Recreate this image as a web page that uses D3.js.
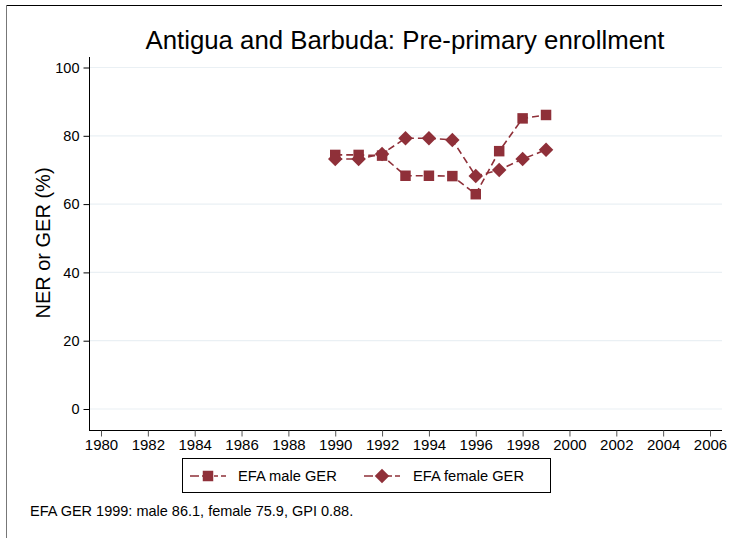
<!DOCTYPE html>
<html>
<head>
<meta charset="utf-8">
<script src="https://cdn.jsdelivr.net/npm/d3@7"></script>
<style>
  body { margin: 0; background: #fff; }
  svg text { font-family: "Liberation Sans", Arial, sans-serif; fill: #000; }
</style>
</head>
<body>
<div id="chart"></div>
<script>
var years = [1990, 1991, 1992, 1993, 1994, 1995, 1996, 1997, 1998, 1999];
var maleGER = [74.4, 74.4, 74.2, 68.3, 68.3, 68.2, 62.9, 75.5, 85.1, 86.1];
var femaleGER = [73.2, 73.2, 74.7, 79.3, 79.3, 78.8, 68.2, 70.0, 73.2, 75.9];
var xTicks = d3.range(1980, 2007, 2);
var yTicks = [0, 20, 40, 60, 80, 100];

var color = '#8f3039';

var svg = d3.select('#chart')
    .append('svg')
        .attr('width', 731)
        .attr('height', 538);

// outer frame (top + left only visible)
svg.append('line').attr('x1', 6).attr('x2', 722).attr('y1', 5.5).attr('y2', 5.5)
    .style('stroke', '#000').style('stroke-width', 1);
svg.append('line').attr('x1', 6.5).attr('x2', 6.5).attr('y1', 5).attr('y2', 538)
    .style('stroke', '#777').style('stroke-width', 1);

var x = d3.scaleLinear().domain([1980, 2006]).range([101, 710]);
var y = d3.scaleLinear().domain([0, 100]).range([409, 67.5]);

// gridlines
svg.selectAll('.grid')
    .data(yTicks)
    .enter()
    .append('line')
    .classed('grid', true)
    .attr('x1', 90).attr('x2', 722)
    .attr('y1', d => y(d)).attr('y2', d => y(d))
    .style('stroke', '#eaf0f4')
    .style('stroke-width', 1.2);

// y axis
var yAxis = svg.append('g')
    .attr('transform', 'translate(89.5,0)')
    .call(d3.axisLeft(y).tickValues(yTicks).tickSize(6).tickPadding(4));
yAxis.select('.domain').attr('d', 'M0,57V430.5');
yAxis.selectAll('text').style('font-size', '14.5px');

// x axis
var xAxis = svg.append('g')
    .attr('transform', 'translate(0,430.5)')
    .call(d3.axisBottom(x).tickValues(xTicks).tickFormat(d3.format('d')).tickSize(6).tickPadding(3));
xAxis.select('.domain').attr('d', 'M89,0H722');
xAxis.selectAll('text').style('font-size', '15px');
xAxis.selectAll('.tick line').style('stroke', '#555');

// title
svg.append('text')
    .attr('x', 405).attr('y', 49)
    .attr('text-anchor', 'middle')
    .style('font-size', '25.8px')
    .text('Antigua and Barbuda: Pre-primary enrollment');

svg.append('text')
    .attr('transform', 'translate(50,243) rotate(-90)')
    .attr('text-anchor', 'middle')
    .style('font-size', '20px')
    .text('NER or GER (%)');

var line = d3.line()
    .x(d => x(d[0]))
    .y(d => y(d[1]));

var maleData = years.map((yr, i) => [yr, maleGER[i]]);
var femaleData = years.map((yr, i) => [yr, femaleGER[i]]);

function drawSeries(data, symbol, size) {
    svg.append('path')
        .datum(data)
        .attr('d', line)
        .style('fill', 'none')
        .style('stroke', color)
        .style('stroke-width', 1.6)
        .style('stroke-dasharray', '7,4');
    svg.selectAll(null)
        .data(data)
        .enter()
        .append('path')
        .attr('transform', d => 'translate(' + x(d[0]) + ',' + y(d[1]) + ')')
        .attr('d', d3.symbol().type(symbol).size(size))
        .style('fill', color);
}

var diamond = {
    draw: function(ctx, size) {
        var r = Math.sqrt(size / 2);
        ctx.moveTo(0, -r); ctx.lineTo(r, 0); ctx.lineTo(0, r); ctx.lineTo(-r, 0); ctx.closePath();
    }
};

drawSeries(maleData, d3.symbolSquare, 110);
drawSeries(femaleData, diamond, 105);

// legend
svg.append('rect')
    .attr('x', 182.5).attr('y', 458.5).attr('width', 368).attr('height', 34)
    .style('fill', 'none').style('stroke', '#000').style('stroke-width', 1);

var legendItems = [
    { label: 'EFA male GER', symbol: d3.symbolSquare, size: 110, x0: 190, tx: 238 },
    { label: 'EFA female GER', symbol: diamond, size: 105, x0: 364, tx: 413 }
];
legendItems.forEach(function(it) {
    svg.append('line')
        .attr('x1', it.x0).attr('x2', it.x0 + 36).attr('y1', 476).attr('y2', 476)
        .style('stroke', color).style('stroke-width', 1.6)
        .style('stroke-dasharray', '9,3,9,3,4,3');
    svg.append('path')
        .attr('transform', 'translate(' + (it.x0 + 18) + ',476)')
        .attr('d', d3.symbol().type(it.symbol).size(it.size))
        .style('fill', color);
    svg.append('text')
        .attr('x', it.tx).attr('y', 481)
        .style('font-size', '14.7px')
        .text(it.label);
});

svg.append('text')
    .attr('x', 30).attr('y', 516)
    .style('font-size', '14.5px')
    .text('EFA GER 1999: male 86.1, female 75.9, GPI 0.88.');
</script>
</body>
</html>
